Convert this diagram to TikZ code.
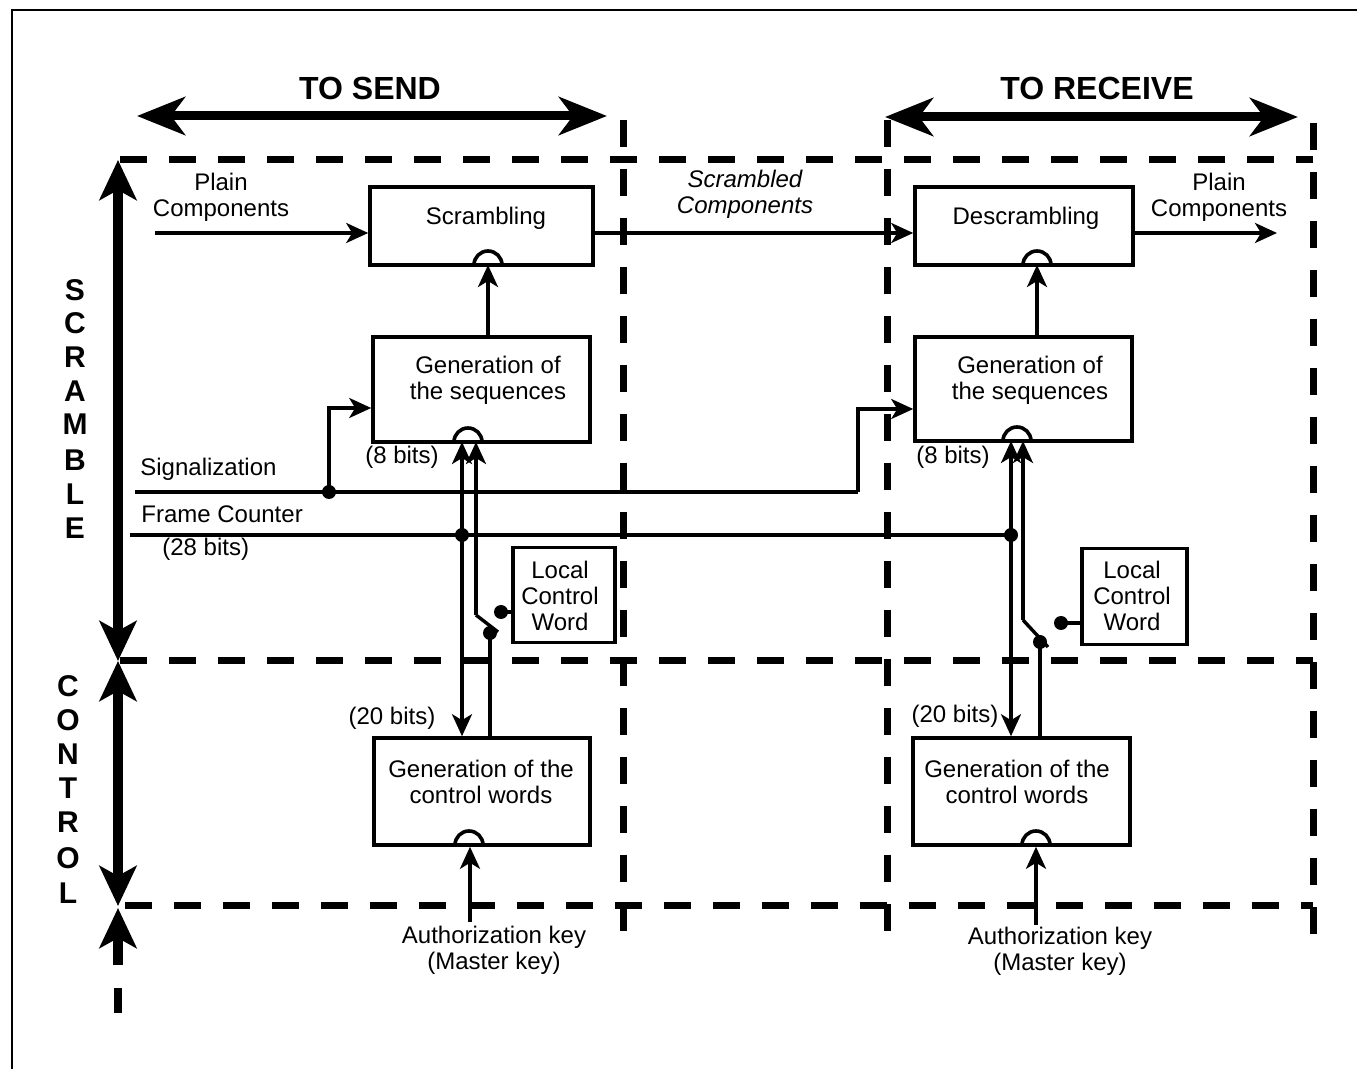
\documentclass[tikz,border=0pt]{standalone}
\usepackage{fontspec}
\setmainfont{Liberation Sans}
\usetikzlibrary{arrows.meta,calc}

\begin{document}
\begin{tikzpicture}[x=0.5pt,y=-0.5pt,
  every node/.style={font=\fontsize{12}{13}\selectfont, inner sep=0pt},
  box/.style={draw, line width=1.8pt, rectangle, inner sep=0pt},
  lbl/.style={align=center},
  conn/.style={line width=1.7pt},
  arr/.style={conn, -{Stealth[length=11pt,width=10pt,inset=3pt]}},
  big/.style={line width=4.5pt, {Stealth[length=24pt,width=19pt,inset=7pt]}-{Stealth[length=24pt,width=19pt,inset=7pt]}},
  vbig/.style={line width=5pt, {Stealth[length=20pt,width=18.5pt,inset=5pt]}-{Stealth[length=20pt,width=18.5pt,inset=5pt]}},
  zone/.style={line width=3.5pt, dash pattern=on 13.5pt off 11pt},
  keyarc/.style={line width=1.8pt},
  dot/.style={circle, fill, minimum size=7pt},
  head/.style={font=\fontsize{16}{19}\selectfont\bfseries},
  side/.style={font=\fontsize{15}{18}\selectfont\bfseries},
]
\useasboundingbox (0,0) rectangle (1357,1069);

% frame
\draw[line width=1.1pt] (12,1069) -- (12,10) -- (1357,10);

% column headers
\node[head] (send) at (370,88) {TO SEND};
\node[head] (recv) at (1097,88) {TO RECEIVE};
\coordinate (sendL) at (137,116);
\coordinate (sendR) at (607,116);
\coordinate (recvL) at (885,117);
\coordinate (recvR) at (1298,117);
\draw[big] (sendL) -- (sendR);
\draw[big] (recvL) -- (recvR);

% row axis
\coordinate (axTop) at (118,160);
\coordinate (axMid) at (118,661);
\coordinate (axBot) at (118,906);
\draw[vbig] (axTop) -- (axMid);
\draw[vbig] (axMid) -- (axBot);
\draw[line width=5pt, {Stealth[length=20pt,width=18.5pt,inset=5pt]}-] (118,908) -- (118,965);
\fill (114,988) rectangle (122,1013);

\foreach \ch/\yy [count=\i] in {S/290,C/323,R/357,A/391,M/424,B/460,L/494,E/528}
  \node[side] (sc\i) at (75,\yy) {\ch};
\foreach \ch/\yy [count=\i] in {C/686,O/720,N/754,T/788,R/822,O/858,L/893}
  \node[side] (co\i) at (68,\yy) {\ch};

% zone boundaries
\draw[zone] (120,160) -- (1313,160);
\draw[zone] (120,661) -- (1313,661);
\draw[zone] (125,906) -- (1313,906);
\draw[zone] (623,120) -- (623,945);
\draw[zone] (887,120) -- (887,945);
\draw[zone] (1313,123) -- (1313,945);

% sending side blocks
\node[box, minimum width=111.5pt, minimum height=39pt] (scr) at (481.5,226) {};
\node[box, minimum width=108.5pt, minimum height=52.5pt] (gs1) at (481.5,389.5) {};
\node[box, minimum width=51pt, minimum height=47.5pt] (lcw1) at (564,595) {};
\node[box, minimum width=108pt, minimum height=53.5pt] (gc1) at (482,791.5) {};
\node[lbl] (scrT) at (486,218) {Scrambling};
\node[lbl] (gs1T) at (488,380) {Generation of\\the sequences};
\node[lbl] (lcw1T) at (560,596) {Local\\Control\\Word};
\node[lbl] (gc1T) at (481,782) {Generation of the\\control words};

% receiving side blocks
\node[box, minimum width=109pt, minimum height=39pt] (des) at (1024,226) {};
\node[box, minimum width=108.5pt, minimum height=52pt] (gs2) at (1023.5,389) {};
\node[box, minimum width=52.5pt, minimum height=48pt] (lcw2) at (1134.5,596.5) {};
\node[box, minimum width=108.5pt, minimum height=53.5pt] (gc2) at (1021.5,791.5) {};
\node[lbl] (desT) at (1026,218) {Descrambling};
\node[lbl] (gs2T) at (1030,380) {Generation of\\the sequences};
\node[lbl] (lcw2T) at (1132,596) {Local\\Control\\Word};
\node[lbl] (gc2T) at (1017,782) {Generation of the\\control words};

% key inputs
\coordinate (k1) at (488,265);
\coordinate (k2) at (468,442);
\coordinate (k3) at (469,845);
\coordinate (k4) at (1037,265);
\coordinate (k5) at (1017,441);
\coordinate (k6) at (1036,845);
\foreach \k in {k1,k2,k3,k4,k5,k6}
  \draw[keyarc] ([xshift=-7pt]\k) arc[start angle=180,end angle=0,radius=7pt];

% component path
\coordinate (pin) at (155,233);
\coordinate (pout) at (1277,233);
\draw[arr] (pin) -- (pin -| scr.west);
\draw[arr] (scr.east |- pin) -- (pin -| des.west);
\draw[arr] (des.east |- pout) -- (pout);
\node[lbl] (pinT) at (221,197) {Plain\\Components};
\node[lbl, font=\fontsize{12}{13}\selectfont\itshape] (midT) at (745,194) {Scrambled\\Components};
\node[lbl] (poutT) at (1219,197) {Plain\\Components};

% sequences to scrambler / descrambler
\draw[arr] (gs1.north -| k1) -- (k1);
\draw[arr] (gs2.north -| k4) -- (k4);

% signalization
\coordinate (sigS) at (135,492);
\coordinate (sigJ) at (329,492);
\coordinate (sigE) at (858,492);
\coordinate (sigT1) at (329,408);
\coordinate (sigT2) at (858,409);
\draw[conn] (sigS) -- (sigE);
\draw[arr] (sigJ) -- (sigT1) -- (sigT1 -| gs1.west);
\draw[arr] (sigE) -- (sigT2) -- (sigT2 -| gs2.west);
\node[dot] (d1) at (sigJ) {};
\node[anchor=west] (sigL) at (140,469) {Signalization};

% frame counter
\coordinate (fcS) at (130,535);
\coordinate (fcJ1) at (462,535);
\coordinate (fcJ2) at (1011,535);
\draw[conn] (fcS) -- (fcJ2);
\node[dot] (d2) at (fcJ1) {};
\node[dot] (d3) at (fcJ2) {};
\node[anchor=west] (fcL) at (141,514) {Frame Counter};
\node[anchor=west] (fcB) at (162,549) {(28 bits)};
\draw[arr] (fcJ1) -- (fcJ1 |- k2);
\draw[arr] (fcJ1) -- (fcJ1 |- gc1.north);
\draw[arr] (fcJ2) -- (fcJ2 |- k5);
\draw[arr] (fcJ2) -- (fcJ2 |- gc2.north);

% control word switch, sending side
\coordinate (sw1a) at (476,615);
\coordinate (sw1b) at (498,632);
\coordinate (sw1c) at (490,633);
\coordinate (lc1) at (501,612);
\draw[arr] (sw1a) -- (sw1a |- k2);
\draw[conn] (sw1a) -- (sw1b);
\draw[conn] (sw1c) -- (sw1c |- gc1.north);
\node[dot] (d4) at (sw1c) {};
\draw[conn] (lc1) -- (lc1 -| lcw1.west);
\node[dot] (d5) at (lc1) {};

% control word switch, receiving side
\coordinate (sw2a) at (1023,620);
\coordinate (sw2b) at (1048,647);
\coordinate (sw2c) at (1040,642);
\coordinate (lc2) at (1061,623);
\draw[arr] (sw2a) -- (sw2a |- k5);
\draw[conn] (sw2a) -- (sw2b);
\draw[conn] (sw2c) -- (sw2c |- gc2.north);
\node[dot] (d6) at (sw2c) {};
\draw[conn] (lc2) -- (lc2 -| lcw2.west);
\node[dot] (d7) at (lc2) {};

% bit widths
\node (b8s) at (402,457) {(8 bits)};
\node (b8r) at (953,457) {(8 bits)};
\node (b20s) at (392,718) {(20 bits)};
\node (b20r) at (955,716) {(20 bits)};

% authorization keys
\coordinate (ak1) at (470,922);
\coordinate (ak2) at (1036,925);
\draw[arr] (ak1) -- (ak1 |- gc1.south);
\draw[arr] (ak2) -- (ak2 |- gc2.south);
\node[lbl] (ak1T) at (494,950) {Authorization key\\(Master key)};
\node[lbl] (ak2T) at (1060,951) {Authorization key\\(Master key)};
\end{tikzpicture}
\end{document}
